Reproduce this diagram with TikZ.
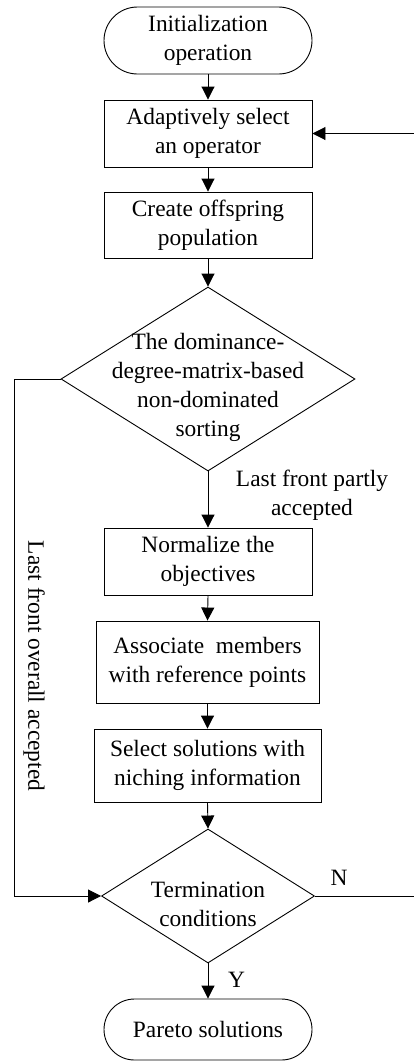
\documentclass[tikz,border=0pt]{standalone}
\usepackage{fontspec}
\setmainfont{Liberation Serif}
\usetikzlibrary{shapes.geometric,shapes.misc,arrows.meta}
\begin{document}
\begin{tikzpicture}[x=1pt,y=-1pt,
  every node/.style={font=\fontsize{23.4}{29}\selectfont, align=center},
  box/.style={draw, line width=0.9pt, inner sep=0pt},
  term/.style={draw, rounded rectangle, line width=0.9pt, minimum width=208, minimum height=67, inner sep=0pt},
  dia/.style={draw, diamond, line width=0.9pt, inner sep=0pt},
  arr/.style={-{Triangle[length=13pt,width=13pt]}, line width=0.9pt}]
\useasboundingbox (0,0) rectangle (414,1063);
\node[term] (start) at (208,40.5) {Initialization\\operation};
\node[box, minimum width=208, minimum height=67] (b1) at (208,133.5) {Adaptively select\\an operator};
\node[box, minimum width=208, minimum height=66] (b2) at (208,225) {Create offspring\\population};
\node[dia, minimum width=294, minimum height=184] (d1) at (208,379) {};
\node (d1t) at (208,387) {The dominance-\\degree-matrix-based\\non-dominated\\sorting};
\node[box, minimum width=208, minimum height=67] (b3) at (208,561.5) {Normalize the\\objectives};
\node[box, minimum width=223, minimum height=82] (b4) at (207.5,662) {Associate\ \ members\\with reference points};
\node[box, minimum width=227, minimum height=73] (b5) at (207.5,765.5) {Select solutions with\\niching information};
\node[dia, minimum width=213, minimum height=134] (d2) at (208,896) {};
\node (d2t) at (208,904) {Termination\\conditions};
\node[term, minimum height=61] (end) at (208,1029.5) {Pareto solutions};
\node (lp) at (312,495) {Last front partly\\accepted};
\node[rotate=-90] (lo) at (34,666) {Last front overall accepted};
\node (ny) at (339,878) {N};
\node (yy) at (236.5,980) {Y};
\draw[arr] (start.south) -- (b1.north);
\draw[arr] (b1.south) -- (b2.north);
\draw[arr] (b2.south) -- (d1.north);
\draw[arr] (d1.south) -- (b3.north);
\draw[arr] (b3.south) -- (b4.north);
\draw[arr] (b4.south) -- (b5.north);
\draw[arr] (b5.south) -- (d2.north);
\draw[arr] (d2.south) -- (end.north);
\coordinate (lc1) at (14,379);
\coordinate (lc2) at (14,896);
\draw[arr] (d1.west) -- (lc1) -- (lc2) -- (d2.west);
\coordinate (rc1) at (416,896);
\coordinate (rc2) at (416,133.5);
\draw[arr] (d2.east) -- (rc1) -- (rc2) -- (b1.east);
\end{tikzpicture}
\end{document}
